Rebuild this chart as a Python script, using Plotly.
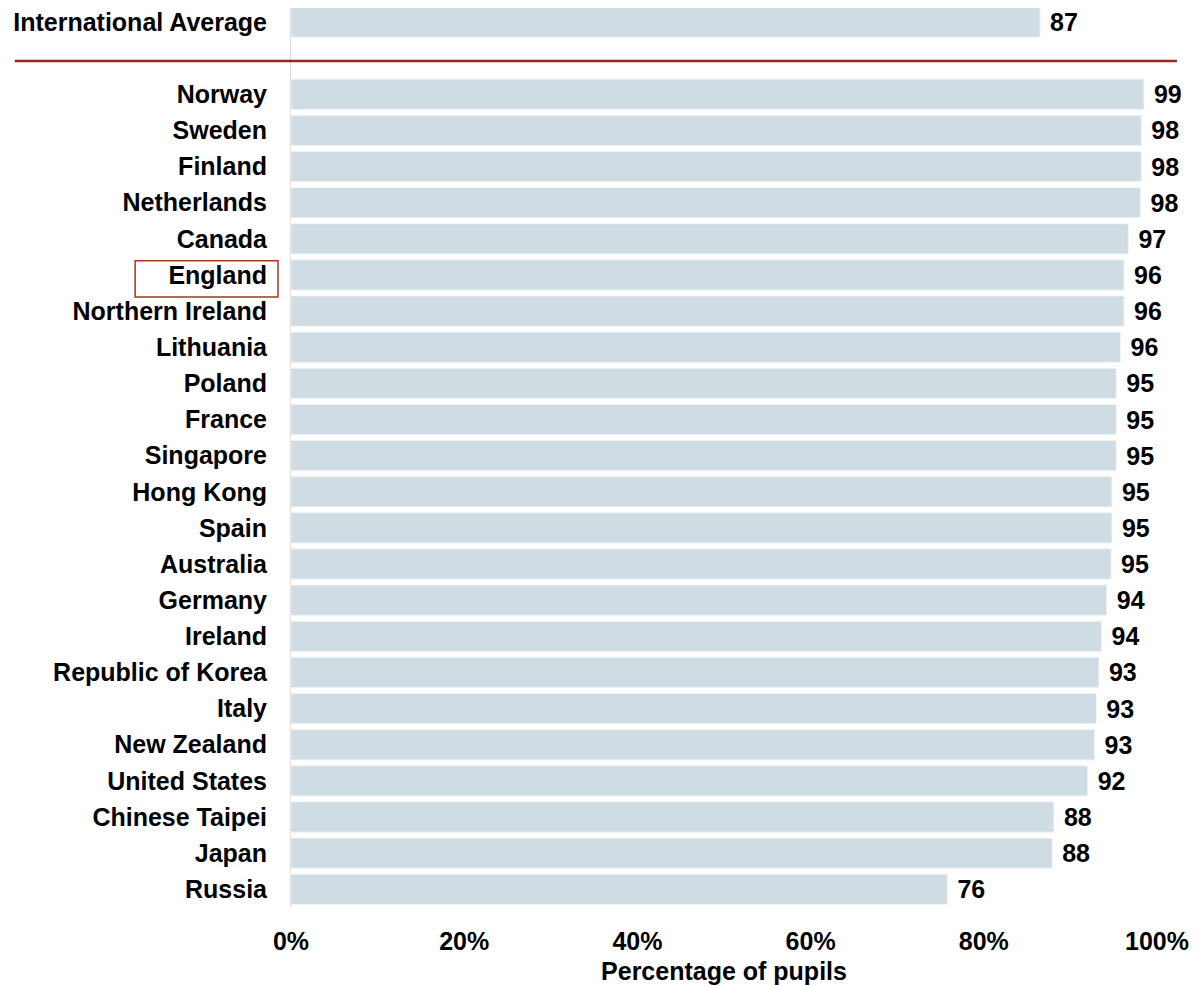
import plotly.graph_objects as go

avg_label = "International Average"
avg_value = 86.5
avg_text = "87"

countries = ["Norway", "Sweden", "Finland", "Netherlands", "Canada", "England",
             "Northern Ireland", "Lithuania", "Poland", "France", "Singapore",
             "Hong Kong", "Spain", "Australia", "Germany", "Ireland",
             "Republic of Korea", "Italy", "New Zealand", "United States",
             "Chinese Taipei", "Japan", "Russia"]
values = [98.5, 98.2, 98.2, 98.1, 96.7, 96.2, 96.2, 95.8, 95.3, 95.3, 95.3,
          94.8, 94.8, 94.7, 94.2, 93.6, 93.3, 93.0, 92.8, 92.0, 88.1, 87.9, 75.8]
labels = ["99", "98", "98", "98", "97", "96", "96", "96", "95", "95", "95",
          "95", "95", "95", "94", "94", "93", "93", "93", "92", "88", "88", "76"]

x_ticks = [0, 20, 40, 60, 80, 100]
x_ticktext = ["0%", "20%", "40%", "60%", "80%", "100%"]

FONT = "Liberation Sans, Arial, sans-serif"
FS = 25

ypos = [0] + [i + 2 for i in range(len(countries))]
allvals = [avg_value] + values
alltext = [avg_text] + labels
allnames = [avg_label] + countries

fig = go.Figure()
fig.add_trace(go.Bar(
    x=allvals, y=ypos, orientation="h",
    marker=dict(color="#D0DCE4", line=dict(color="#F2F5F7", width=1)),
    width=0.84,
    text=[f" <b>{t}</b>" for t in alltext],
    textposition="outside",
    textfont=dict(family=FONT, size=FS, color="#000000"),
    cliponaxis=False,
    hoverinfo="skip",
))

fig.update_layout(
    width=1190, height=978,
    margin=dict(l=283, r=41, t=0, b=79),
    plot_bgcolor="white", paper_bgcolor="white",
    showlegend=False,
    font=dict(family=FONT, color="#000000"),
)
fig.update_xaxes(
    range=[0, 100], tickvals=x_ticks,
    ticktext=[f"<b>{t}</b>" for t in x_ticktext],
    tickfont=dict(family=FONT, size=FS, color="#000000"),
    showgrid=False, zeroline=False, showline=False,
    ticks="outside", ticklen=12, tickcolor="rgba(0,0,0,0)",
    title=dict(text="<b>Percentage of pupils</b>",
               font=dict(family=FONT, size=FS, color="#000000"), standoff=8),
)
fig.update_yaxes(
    range=[24.49, -0.387], tickvals=ypos,
    ticktext=[f"<b>{n}</b>" for n in allnames],
    tickfont=dict(family=FONT, size=FS, color="#000000"),
    showgrid=False, zeroline=False,
    showline=True, linecolor="#DDDDDD", linewidth=1,
    ticks="outside", ticklen=18, tickcolor="rgba(0,0,0,0)",
    ticklabeloverflow="allow",
    automargin=False,
)

# separator line under the international average
fig.add_shape(type="line", xref="paper", yref="y",
              x0=-0.319, x1=1.023, y0=1.08, y1=1.08,
              line=dict(color="#9B2328", width=2.5), layer="above")
# box around England label
fig.add_shape(type="rect", xref="paper", yref="y",
              x0=-0.180, x1=-0.015, y0=6.61, y1=7.61,
              line=dict(color="#A0391E", width=1.5), fillcolor="rgba(0,0,0,0)")

fig.write_html("out.html")
